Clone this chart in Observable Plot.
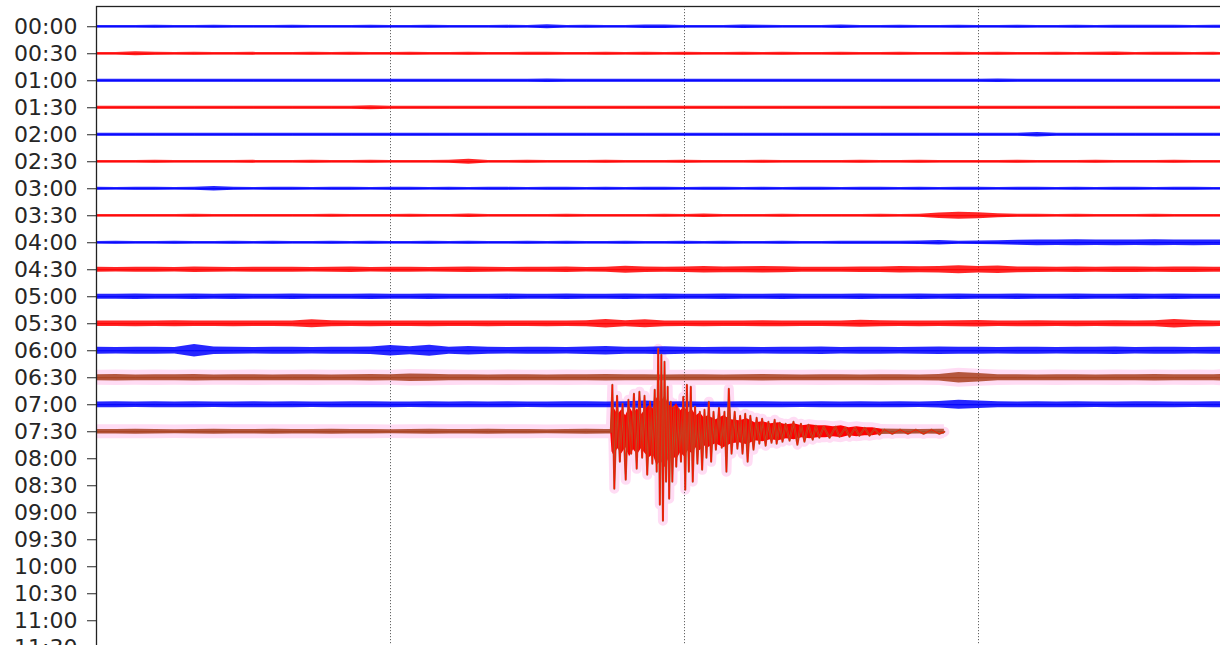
<!DOCTYPE html>
<html><head><meta charset="utf-8">
<script src="https://cdn.jsdelivr.net/npm/d3@7"></script>
<script src="https://cdn.jsdelivr.net/npm/@observablehq/plot@0.6"></script>
<style>
html,body{margin:0;padding:0;overflow:hidden;background:#fff;width:1220px;height:645px}
#chart svg{max-width:none!important}
</style></head><body><div id="chart"></div>
<script>
// Row labels (start time of each 30-minute line)
const rowLabels = ["00:00","00:30","01:00","01:30","02:00","02:30","03:00","03:30","04:00","04:30","05:00","05:30","06:00","06:30","07:00","07:30","08:00","08:30","09:00","09:30","10:00","10:30","11:00","11:30"];
// Trace kind of each drawn line
const rowKinds = ["blue","red","blue","red","blue","red","blue","red","blue","red","blue","red","blue","brown","blue","brown"];
// Minute at which each trace ends
const rowEnds = [30,30,30,30,30,30,30,30,30,30,30,30,30,30,30,21.63];
const sampleStep = 0.5; // minutes between envelope samples
const gridMinutes = [7.5, 15, 22.5];

// Noise envelope (half amplitude, counts) sampled every 0.5 min
const n0000 = [1,1.1,1,1.3,1,1,1.2,1,1.1,1, 1.2,1,1.1,1,1.3,1,1.1,1.2,1,1, 1.1,1.2,1,1.7,1.1,1.2,1,1.1,1.5,1.6, 1.1,1,1.1,1.6,1.4,1,1.1,1,1.6,1.1, 1,1.2,1.1,1,1.2,1,1.1,1.3,1,1.1, 1.2,1.1,1.3,1.4,1.2,1.3,1.1,1.4,1.2,1.1, 1.2];
const n0030 = [1,1.1,1.8,1.2,1,1.3,1.1,1,1.2,1, 1.1,1.3,1,1.2,1.1,1,1.3,1.1,1,1.2, 1.1,1,1.2,1.3,1.1,1,1.2,1.1,1.3,1, 1.2,1.1,1,1.3,1.1,1.2,1,1.1,1.2,1, 1.1,1.2,1,1.1,1.3,1,1.2,1.1,1,1.2, 1.1,1.3,1.6,1.1,1.2,1.3,1.1,1.2,1.1,1, 1.1];
const n0100 = [1.3,1.2,1.4,1.3,1.2,1.4,1.3,1.2,1.4,1.3, 1.2,1.3,1.4,1.2,1.3,1.2,1.4,1.3,1.2,1.3, 1.4,1.2,1.3,1.5,1.3,1.2,1.4,1.3,1.2,1.3, 1.4,1.2,1.3,1.2,1.4,1.3,1.2,1.3,1.4,1.2, 1.3,1.2,1.4,1.3,1.2,1.3,1.5,1.2,1.3,1.4, 1.2,1.3,1.2,1.4,1.3,1.2,1.3,1.4,1.2,1.3, 1.3];
const n0130 = [1.3,1.2,1.3,1.4,1.2,1.3,1.2,1.4,1.3,1.2, 1.3,1.4,1.2,1.3,1.8,1.3,1.2,1.3,1.2,1.4, 1.3,1.2,1.3,1.4,1.2,1.3,1.2,1.3,1.4,1.2, 1.3,1.2,1.3,1.2,1.4,1.3,1.2,1.3,1.2,1.3, 1.4,1.2,1.3,1.2,1.3,1.4,1.2,1.3,1.2,1.3, 1.2,1.3,1.4,1.2,1.3,1.2,1.3,1.2,1.4,1.3, 1.2];
const n0200 = [1.2,1.3,1.2,1.4,1.2,1.3,1.2,1.3,1.4,1.2, 1.3,1.2,1.4,1.2,1.3,1.2,1.3,1.2,1.4,1.3, 1.2,1.3,1.2,1.4,1.2,1.3,1.2,1.3,1.2,1.3, 1.4,1.2,1.3,1.2,1.3,1.4,1.2,1.3,1.2,1.3, 1.2,1.3,1.4,1.2,1.3,1.2,1.3,1.4,1.9,1.3, 1.2,1.3,1.2,1.4,1.3,1.2,1.3,1.2,1.3,1.2, 1.3];
const n0230 = [1,1.1,1,1.2,1,1.1,1,1.1,1.2,1, 1.1,1.3,1,1.1,1.2,1,1.1,1,1.2,2.2, 1.1,1,1.2,1,1.1,1,1.2,1.1,1,1.1, 1.2,1,1.1,1,1.2,1.1,1,1.1,1,1.2, 1,1.1,1.2,1,1.1,1,1.1,1.2,1,1.1, 1,1.2,1.1,1,1.1,1.2,1,1.1,1,1.1, 1];
const n0300 = [1.2,1.1,1.3,1.2,1.1,1.3,2,1.2,1.1,1.3, 1.2,1.1,1.3,1.2,1.1,1.2,1.3,1.1,1.2,1.1, 1.3,1.2,1.1,1.2,1.3,1.1,1.2,1.1,1.3,1.2, 1.1,1.2,1.3,1.1,1.2,1.1,1.3,1.2,1.1,1.2, 1.3,1.1,1.2,1.1,1.3,1.2,1.1,1.2,1.3,1.1, 1.2,1.1,1.3,1.2,1.1,1.2,1.3,1.1,1.2,1.1, 1.2];
const n0330 = [1,1.1,1,1.1,1,1.2,1,1.1,1,1.1, 1,1.1,1.2,1,1.1,1,1.2,1.1,1,1.5, 1.1,1,1.1,1,1.2,1,1.1,1,1.1,1.2, 1,1.6,1.1,1,1.1,1.2,1,1.1,1,1.1, 1.2,1.1,1.4,2.4,3,2.6,1.8,1.3,1.2,1.1, 1.2,1.1,1,1.1,1.2,1,1.1,1,1.1,1, 1.1];
const n0400 = [1.1,1.2,1,1.1,1.2,1.1,1,1.2,1.1,1.2, 1,1.1,1.2,1.1,1.3,1.1,1,1.2,1.1,1.2, 1.1,1,1.2,1.1,1.2,1,1.1,1.2,1.1,1, 1.2,1.1,1.2,1,1.1,1.2,1.1,1,1.2,1.3, 1.2,1.3,1.5,1.9,1.4,1.6,1.8,2.2,2.5,2.4, 2.6,2.3,2.5,2.4,2.6,2.3,2.5,2.4,2.6,2.4, 2.5];
const n0430 = [2.1,2,2.2,2.1,2,2.3,2.1,2,2.2,2.1, 2.2,2,2.1,2.3,2,2.2,2.1,2,2.2,2.3, 2.1,2,2.2,2.1,2.3,2,2.2,3,2.3,2.1, 2.3,2.8,2.5,2.7,2.9,2.6,2.2,2.1,2.2,2.3, 2.4,2.8,2.6,2.9,3.4,2.8,3.2,2.5,2.3,2.2, 2.3,2.2,2.4,2.3,2.2,2.4,2.3,2.2,2.3,2.4, 2.3];
const n0500 = [2.2,2.1,2.3,2.2,2.1,2.3,2.2,2.4,2.2,2.1, 2.3,2.2,2.1,2.2,2.3,2.1,2.2,2.4,2.2,2.1, 2.2,2.3,2.1,2.2,2.3,2.2,2.1,2.4,2.2,2.3, 2.1,2.2,2.3,2.2,2.1,2.3,2.2,2.1,2.2,2.3, 2.2,2.1,2.3,2.2,2.4,2.2,2.1,2.3,2.2,2.1, 2.3,2.2,2.1,2.3,2.2,2.4,2.2,2.1,2.3,2.2, 2.2];
const n0530 = [2.4,2.3,2.5,2.4,2.6,2.3,2.4,2.5,2.3,2.4, 2.5,3.5,2.6,2.4,2.5,2.3,2.4,2.5,2.4,2.3, 2.5,2.4,2.3,2.5,2.4,2.6,3.8,2.6,3.5,2.5, 2.4,2.5,2.3,2.4,2.6,2.5,2.4,2.3,2.5,3.1, 2.6,2.4,2.5,2.3,2.6,2.8,2.4,2.5,2.6,2.4, 2.5,2.4,2.6,2.5,2.7,3.8,2.9,2.5,2.4,2.6, 2.5];
const n0600 = [3,2.9,3.1,3,2.8,5.5,3.2,3,2.9,3.1, 3,2.9,3.1,3,3.2,4.5,3.4,4.8,3.1,3.8, 3,2.9,3.1,3,2.9,3.2,3.6,3.1,3,3.5, 3,2.9,3.1,3,2.9,3.1,3,3.2,2.9,3, 3.1,2.9,3,3.2,3.1,3,2.9,3.1,3,2.9, 3.1,3,3.2,2.9,3,3.1,2.9,3,3.2,3, 3.1];
const n0630 = [2.6,2.8,2.5,2.7,2.6,2.8,2.5,2.6,2.7,2.5, 2.6,2.7,2.5,2.6,2.8,2.6,3.2,3,2.7,2.6, 2.5,2.7,2.6,2.5,2.7,2.6,2.8,2.6,2.7,2.5, 2.6,2.7,2.5,2.6,2.8,2.6,2.5,2.7,2.6,2.5, 2.7,2.6,2.5,2.8,4.5,3.6,2.7,2.6,2.5,2.7, 2.6,2.5,2.7,2.6,2.8,2.6,2.7,2.6,3.4,3.8, 4];
const n0700 = [2.5,2.6,2.4,2.7,2.5,2.6,2.4,2.5,2.7,2.5, 2.6,2.4,2.5,2.7,2.6,2.5,2.4,2.6,2.5,2.7, 2.5,2.6,2.4,2.5,2.6,2.7,2.5,2.6,3.2,2.5, 2.6,2.4,2.5,2.6,2.7,2.5,2.4,2.6,2.5,2.7, 2.5,2.6,2.4,2.8,4,3.2,2.6,2.5,2.7,2.5, 2.6,2.4,2.5,2.7,2.6,2.5,2.4,2.6,2.5,2.6, 2.5];
const n0730 = [2,1.9,2.1,2,1.8,2,2.1,1.9,2,2.1, 1.9,2,2.1,1.9,2,1.8,2,2.1,1.9,2, 2.1,1.9,2,1.8,2,2.1,2,2,2,2, 2,2,2,2,2,2,2,2,2,2.2, 2.3,2.1,2,2.1];
const noiseRows = [n0000,n0030,n0100,n0130,n0200,n0230,n0300,n0330,n0400,n0430,n0500,n0530,n0600,n0630,n0700,n0730];

// Earthquake on the 07:30 line: main excursions (minute, counts; + = downward)
const eventRow = 15;
const eventMinutes = [13.12,13.16,13.21,13.28,13.35,13.42,13.50,13.57,13.64,13.71,13.78,13.85,13.92,13.98,14.05,14.12,14.18,14.24,14.29,14.33,14.37,14.41,14.45,14.49,14.53,14.57,14.61,14.65,14.69,14.74,14.79,14.85,14.91,14.97,15.02,15.06,15.11,15.16,15.21,15.27,15.33,15.39,15.45,15.51,15.56,15.62,15.68,15.74,15.80,15.88,15.95,16.02,16.07,16.13,16.20,16.28,16.35,16.42,16.48,16.55,16.61,16.68,16.76,16.84,16.91,16.98,17.07,17.14,17.22,17.30,17.35,17.43,17.50,17.58,17.68,17.78,17.88,17.97,18.06,18.16,18.27,18.35,18.44,18.55,18.70,18.85,18.95,19.10,19.21,19.35,19.46,19.60,19.72,19.85,19.97,20.1,20.3,20.5,20.7,20.9,21.1,21.3,21.5,21.63];
const eventCounts = [0,-47,57,-36,30,-28,48,-32,22,-38,37,-40,26,-36,43,-30,32,-42,40,-83,73,-77,89,-70,50,-45,67,-30,50,-25,35,-23,30,-35,58,-47,40,-45,50,-25,32,-20,38,-22,26,-30,30,-20,18,-24,16,-20,40,-43,22,-20,17,-16,22,-18,30,-16,18,-14,12,-13,14,-10,11,-12,12,-9,10,-8,9,-10,13,-8,10,-7,8,-6,6,-5,6,-5,5,-4,5,-4,4,-4,4,-3,3,-2,2,-2,2,-2,2,-2,2,0];
// Dense core of the earthquake (half amplitude, counts)
const coreMinutes = [13.12,13.15,13.2,13.3,13.4,13.5,13.6,13.7,13.8,13.9,14.0,14.1,14.2,14.3,14.4,14.5,14.6,14.7,14.8,14.9,15.0,15.1,15.2,15.3,15.4,15.5,15.6,15.8,16.0,16.2,16.4,16.6,16.8,17.0,17.2,17.4,17.6,17.8,18.0,18.2,18.4,18.6,18.8,19.0,19.2,19.4,19.6,19.8,19.95,20.05];
const coreCounts = [2,20,24,17,22,16,25,18,23,17,22,26,23,34,29,36,27,24,28,21,25,19,22,16,19,14,16,12,16,12,11,13,9,10,8,9,7,8,6,7,6,6,5,6,4,5,4,4,3,2];

const ROW_PX = 27;   // counts per row spacing
const NOISE_GAIN = 1.15;
const colors = {blue: "#0000ff", red: "#ff0000", brown: "#a8401e"};
const halo = "#ffdcf4";

const points = [];
noiseRows.forEach((env, row) => {
  env.forEach((a, k) => {
    const m = k * sampleStep;
    if (m <= rowEnds[row]) points.push({row, m, a, kind: rowKinds[row]});
  });
  const last = points[points.length - 1];
  if (last.m < rowEnds[row]) points.push({row, m: rowEnds[row], a: env[env.length - 1], kind: rowKinds[row]});
});
const eventData = eventMinutes.map((m, i) => ({m, v: eventCounts[i]}));
const coreData = coreMinutes.map((m, i) => ({m, a: coreCounts[i]}));
const brownPts = points.filter(d => d.kind === "brown");

const chart = Plot.plot({
  width: 1280,
  height: 672,
  marginLeft: 96, marginRight: 8, marginTop: 6, marginBottom: 3,
  style: {fontFamily: "DejaVu Sans", fontSize: "22px", color: "#262626", background: "#fff", maxWidth: "none"},
  x: {domain: [0, 30], range: [96, 1272], axis: null},
  y: {domain: [-0.75, 23.75], range: [6, 667.5], ticks: d3.range(24), tickFormat: i => rowLabels[i], tickSize: 9, tickPadding: 10, label: null},
  color: {type: "identity"},
  marks: [
    Plot.areaY(brownPts, {x: "m", y1: d => d.row - (d.a + 5) / ROW_PX, y2: d => d.row + (d.a + 5) / ROW_PX, z: "row", fill: halo}),
    Plot.areaY(coreData, {x: "m", y1: d => eventRow - (d.a + 5) / ROW_PX, y2: d => eventRow + (d.a + 5) / ROW_PX, fill: halo}),
    Plot.line(eventData, {x: "m", y: d => eventRow + d.v / ROW_PX, stroke: halo, strokeWidth: 10, strokeLinejoin: "round"}),
    Plot.ruleX(gridMinutes, {stroke: "#555", strokeWidth: 0.9, strokeDasharray: "1.2,1.8"}),
    Plot.areaY(points, {x: "m", y1: d => d.row - NOISE_GAIN * d.a / ROW_PX, y2: d => d.row + NOISE_GAIN * d.a / ROW_PX, z: "row", fill: d => colors[d.kind], fillOpacity: 0.85}),
    Plot.lineY(points, {x: "m", y: "row", z: "row", stroke: d => colors[d.kind], strokeWidth: 1}),
    Plot.areaY(coreData, {x: "m", y1: d => eventRow - d.a / ROW_PX, y2: d => eventRow + d.a / ROW_PX, fill: "#ff0000"}),
    Plot.line(eventData, {x: "m", y: d => eventRow + d.v / ROW_PX, stroke: "#a85a30", strokeWidth: 2}),
    Plot.line(eventData, {x: "m", y: d => eventRow + d.v / ROW_PX, stroke: "#ff1000", strokeWidth: 0.9}),
    Plot.frame({stroke: "#222", strokeWidth: 1.3})
  ]
});
document.getElementById("chart").appendChild(chart);
</script></body></html>
